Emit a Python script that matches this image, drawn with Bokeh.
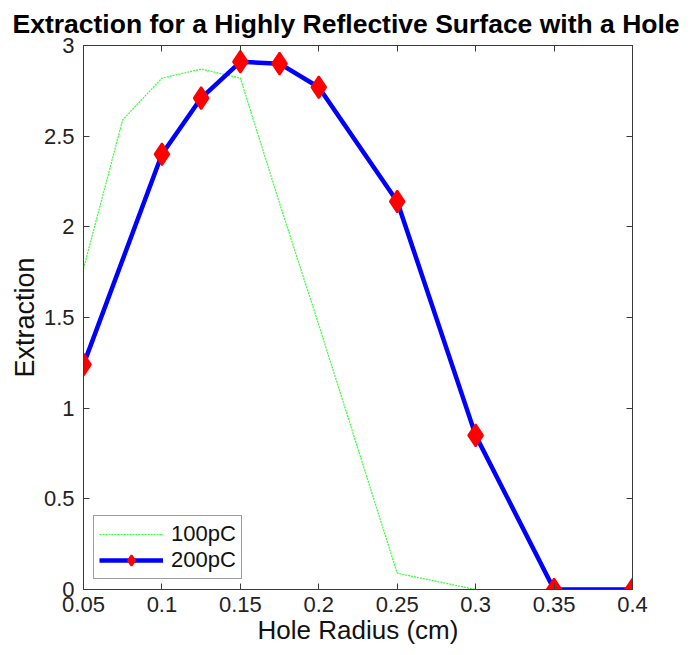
from bokeh.plotting import figure
from bokeh.models import Range1d, FixedTicker, LinearAxis, Legend, LegendItem
from bokeh.embed import file_html
from bokeh.resources import INLINE

# Data
radius_100 = [0.05, 0.075, 0.1, 0.125, 0.15, 0.175, 0.2, 0.25, 0.3, 0.35, 0.4]
extraction_100 = [1.77, 2.59, 2.82, 2.87, 2.82, 2.13, 1.46, 0.09, 0.0, 0.0, 0.0]

radius_200 = [0.05, 0.1, 0.125, 0.15, 0.175, 0.2, 0.25, 0.3, 0.35, 0.4]
extraction_200 = [1.24, 2.40, 2.71, 2.91, 2.90, 2.77, 2.14, 0.85, 0.0, 0.0]

x_ticks = [0.05, 0.1, 0.15, 0.2, 0.25, 0.3, 0.35, 0.4]
x_tick_labels = ["0.05", "0.1", "0.15", "0.2", "0.25", "0.3", "0.35", "0.4"]
y_ticks = [0, 0.5, 1, 1.5, 2, 2.5, 3]
y_tick_labels = ["0", "0.5", "1", "1.5", "2", "2.5", "3"]

FONT = "Liberation Sans"
AX_COLOR = "#3a3a3a"

p = figure(width=680, height=647, output_backend="svg", toolbar_location=None,
           x_range=Range1d(0.05, 0.4), y_range=Range1d(0, 3),
           min_border_left=83, min_border_right=48, min_border_top=45,
           min_border_bottom=55)

p.title.text = "Extraction for a Highly Reflective Surface with a Hole"
p.title.text_font = FONT
p.title.text_font_size = "26.5px"
p.title.text_font_style = "bold"
p.title.text_color = "#000000"
p.title.align = "left"
p.title.offset = -71
p.title.standoff = 10
p.title.vertical_align = "top"

p.xgrid.visible = False
p.ygrid.visible = False
p.outline_line_color = AX_COLOR
p.outline_line_width = 1
p.outline_line_alpha = 1.0

def style_axis(ax, ticks, labels, show_labels=True):
    ax.ticker = FixedTicker(ticks=ticks)
    ax.major_label_overrides = {t: l for t, l in zip(ticks, labels)}
    ax.major_tick_in = 6
    ax.major_tick_out = 0
    ax.minor_tick_in = 0
    ax.minor_tick_out = 0
    ax.axis_line_color = AX_COLOR
    ax.major_tick_line_color = AX_COLOR
    ax.major_label_text_font = FONT
    ax.major_label_text_font_size = "22px"
    ax.major_label_text_color = "#222222" if show_labels else None
    ax.axis_label_text_font = FONT
    ax.axis_label_text_font_size = "26px"
    ax.axis_label_text_font_style = "normal"
    ax.axis_label_text_color = "#111111"

style_axis(p.xaxis[0], x_ticks, x_tick_labels)
style_axis(p.yaxis[0], y_ticks, y_tick_labels)
p.xaxis[0].axis_label = "Hole Radius (cm)"
p.yaxis[0].axis_label = "Extraction"
p.yaxis[0].axis_label_text_font_size = "27px"
p.xaxis[0].major_label_standoff = 7
p.xaxis[0].axis_label_standoff = 0
p.yaxis[0].major_label_standoff = 9
p.yaxis[0].axis_label_standoff = 1

top_ax = LinearAxis()
style_axis(top_ax, x_ticks, x_tick_labels, show_labels=False)
top_ax.major_label_text_font_size = "0px"
top_ax.major_label_standoff = 0
p.add_layout(top_ax, "above")
right_ax = LinearAxis()
style_axis(right_ax, y_ticks, y_tick_labels, show_labels=False)
right_ax.major_label_text_font_size = "0px"
right_ax.major_label_standoff = 0
p.add_layout(right_ax, "right")

g = p.line(radius_100, extraction_100, line_color="#33ff33", line_width=1.2,
           line_dash="2 1")
b = p.line(radius_200, extraction_200, line_color="#0000ff", line_width=4.5)
m = p.scatter(radius_200, extraction_200, marker="diamond", size=22,
              fill_color="#ff0000", line_color="#ff0000", line_width=2)

legend = Legend(items=[LegendItem(label="100pC", renderers=[g]),
                       LegendItem(label="200pC", renderers=[b, m])],
                location="bottom_left")
legend.label_text_font = FONT
legend.label_text_font_size = "22px"
legend.label_text_color = "#111111"
legend.glyph_width = 64
legend.glyph_height = 26
legend.label_standoff = 8
legend.spacing = 0
legend.padding = 5
legend.margin = 10
legend.border_line_color = AX_COLOR
legend.border_line_width = 1
legend.background_fill_alpha = 1.0
p.add_layout(legend, "center")

open("out.html", "w").write(file_html(p, INLINE))
